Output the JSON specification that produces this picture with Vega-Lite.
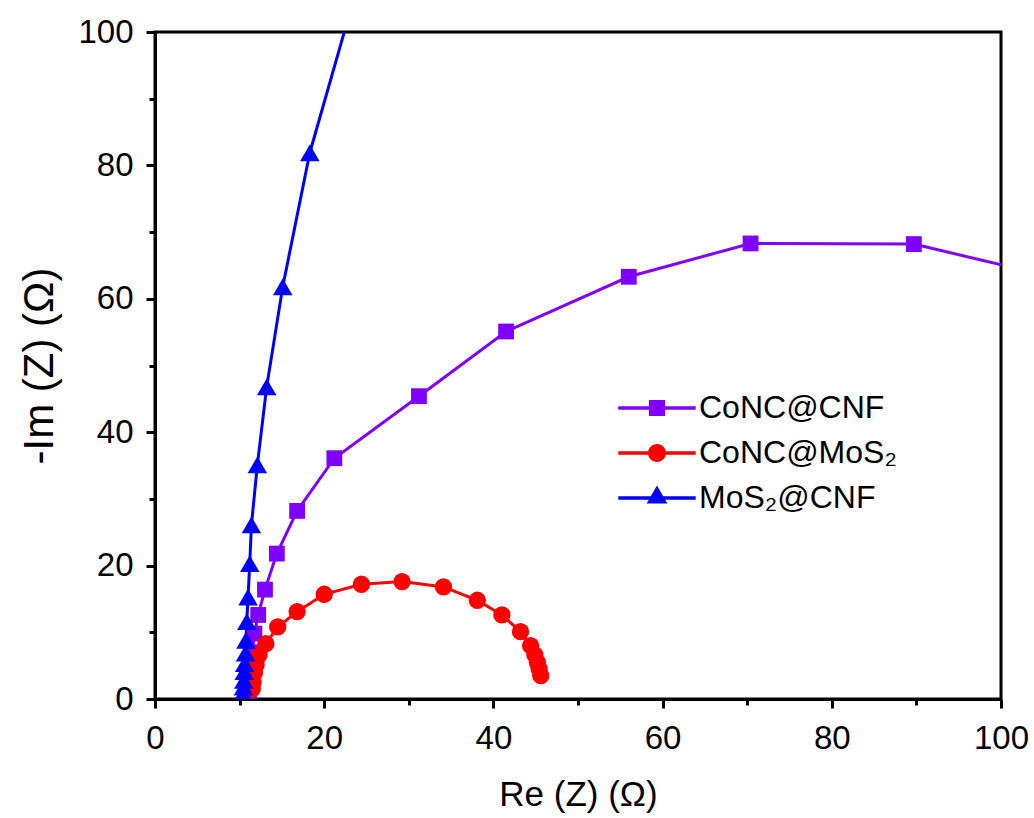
{
  "$schema": "https://vega.github.io/schema/vega-lite/v6.json",
  "autosize": "none",
  "width": 846,
  "height": 667,
  "padding": {"left": 155, "top": 32, "right": 33, "bottom": 119},
  "background": "white",
  "config": {
    "font": "Liberation Sans",
    "view": {"stroke": "black", "strokeWidth": 3},
    "axis": {"grid": false, "domainColor": "black", "domainWidth": 3, "tickColor": "black", "tickWidth": 3, "labelColor": "black", "titleColor": "black", "labelFont": "Liberation Sans", "titleFont": "Liberation Sans", "titleFontWeight": "normal", "labelFontSize": 33, "titleFontSize": 35}
  },
  "data": {"values": [
    {"s": "CoNC@CNF", "i": 1, "x": 11.1, "y": 0.6},
    {"s": "CoNC@CNF", "i": 2, "x": 11.2, "y": 2.2},
    {"s": "CoNC@CNF", "i": 3, "x": 11.35, "y": 4.5},
    {"s": "CoNC@CNF", "i": 4, "x": 11.5, "y": 7.0},
    {"s": "CoNC@CNF", "i": 5, "x": 11.75, "y": 9.8},
    {"s": "CoNC@CNF", "i": 6, "x": 12.2, "y": 12.6},
    {"s": "CoNC@CNF", "i": 7, "x": 13.0, "y": 16.4},
    {"s": "CoNC@CNF", "i": 8, "x": 14.4, "y": 21.8},
    {"s": "CoNC@CNF", "i": 9, "x": 16.8, "y": 28.2},
    {"s": "CoNC@CNF", "i": 10, "x": 21.2, "y": 36.1},
    {"s": "CoNC@CNF", "i": 11, "x": 31.2, "y": 45.4},
    {"s": "CoNC@CNF", "i": 12, "x": 41.5, "y": 55.1},
    {"s": "CoNC@CNF", "i": 13, "x": 56.0, "y": 63.3},
    {"s": "CoNC@CNF", "i": 14, "x": 70.4, "y": 68.3},
    {"s": "CoNC@CNF", "i": 15, "x": 89.7, "y": 68.2},
    {"s": "CoNC@CNF", "i": 16, "x": 108.0, "y": 62.7},
    {"s": "CoNC@MoS₂", "i": 1, "x": 11.5, "y": 1.5},
    {"s": "CoNC@MoS₂", "i": 2, "x": 11.6, "y": 2.6},
    {"s": "CoNC@MoS₂", "i": 3, "x": 11.75, "y": 3.9},
    {"s": "CoNC@MoS₂", "i": 4, "x": 11.95, "y": 5.1},
    {"s": "CoNC@MoS₂", "i": 5, "x": 12.3, "y": 6.6},
    {"s": "CoNC@MoS₂", "i": 6, "x": 13.1, "y": 8.3},
    {"s": "CoNC@MoS₂", "i": 7, "x": 14.5, "y": 10.8},
    {"s": "CoNC@MoS₂", "i": 8, "x": 16.8, "y": 13.1},
    {"s": "CoNC@MoS₂", "i": 9, "x": 20.0, "y": 15.7},
    {"s": "CoNC@MoS₂", "i": 10, "x": 24.4, "y": 17.2},
    {"s": "CoNC@MoS₂", "i": 11, "x": 29.2, "y": 17.6},
    {"s": "CoNC@MoS₂", "i": 12, "x": 34.1, "y": 16.8},
    {"s": "CoNC@MoS₂", "i": 13, "x": 38.1, "y": 14.8},
    {"s": "CoNC@MoS₂", "i": 14, "x": 41.0, "y": 12.6},
    {"s": "CoNC@MoS₂", "i": 15, "x": 43.2, "y": 10.1},
    {"s": "CoNC@MoS₂", "i": 16, "x": 44.4, "y": 8.0},
    {"s": "CoNC@MoS₂", "i": 17, "x": 44.9, "y": 6.6},
    {"s": "CoNC@MoS₂", "i": 18, "x": 45.2, "y": 5.5},
    {"s": "CoNC@MoS₂", "i": 19, "x": 45.4, "y": 4.5},
    {"s": "CoNC@MoS₂", "i": 20, "x": 45.6, "y": 3.5},
    {"s": "MoS₂@CNF", "i": 1, "x": 10.4, "y": 0.8},
    {"s": "MoS₂@CNF", "i": 2, "x": 10.45, "y": 1.8},
    {"s": "MoS₂@CNF", "i": 3, "x": 10.5, "y": 2.8},
    {"s": "MoS₂@CNF", "i": 4, "x": 10.55, "y": 4.1},
    {"s": "MoS₂@CNF", "i": 5, "x": 10.6, "y": 5.3},
    {"s": "MoS₂@CNF", "i": 6, "x": 10.7, "y": 6.9},
    {"s": "MoS₂@CNF", "i": 7, "x": 10.75, "y": 8.8},
    {"s": "MoS₂@CNF", "i": 8, "x": 10.85, "y": 11.6},
    {"s": "MoS₂@CNF", "i": 9, "x": 11.0, "y": 15.3},
    {"s": "MoS₂@CNF", "i": 10, "x": 11.2, "y": 20.3},
    {"s": "MoS₂@CNF", "i": 11, "x": 11.4, "y": 26.1},
    {"s": "MoS₂@CNF", "i": 12, "x": 12.1, "y": 35.1},
    {"s": "MoS₂@CNF", "i": 13, "x": 13.2, "y": 46.8},
    {"s": "MoS₂@CNF", "i": 14, "x": 15.1, "y": 61.8},
    {"s": "MoS₂@CNF", "i": 15, "x": 18.3, "y": 81.9},
    {"s": "MoS₂@CNF", "i": 16, "x": 23.5, "y": 105.0}
  ]},
  "encoding": {
    "x": {"field": "x", "type": "quantitative", "scale": {"domain": [0, 100], "nice": false, "zero": false},
      "axis": {"title": "Re (Z) (Ω)", "values": [0, 10, 20, 30, 40, 50, 60, 70, 80, 90, 100], "labelExpr": "datum.value % 20 === 0 ? datum.label : ''", "tickSize": {"condition": {"test": "datum.value % 20 !== 0", "value": 6}, "value": 9}, "labelPadding": 14, "titlePadding": 22, "labelFlush": false}},
    "y": {"field": "y", "type": "quantitative", "scale": {"domain": [0, 100], "nice": false, "zero": false},
      "axis": {"title": "-Im (Z) (Ω)", "values": [0, 10, 20, 30, 40, 50, 60, 70, 80, 90, 100], "labelExpr": "datum.value % 20 === 0 ? datum.label : ''", "tickSize": {"condition": {"test": "datum.value % 20 !== 0", "value": 6}, "value": 9}, "labelPadding": 13, "titlePadding": 16, "titleFontSize": 42, "labelFlush": false}},
    "color": {"field": "s", "type": "nominal", "scale": {"domain": ["CoNC@CNF", "CoNC@MoS₂", "MoS₂@CNF"], "range": ["#8000FF", "#FF0000", "#0000FF"]},
      "legend": {"orient": "none", "legendX": 486, "legendY": 360, "title": null, "labelFontSize": 32, "labelFont": "Liberation Sans", "labelColor": "black", "labelLimit": 0, "labelOffset": 26, "rowPadding": 13, "symbolSize": 324, "symbolStrokeWidth": 0, "symbolOpacity": 1,
        "symbolType": {"expr": "datum.value === 'CoNC@CNF' ? 'M-4.3,-0.2H4.3V0.2H-4.3Z M-0.9,-0.9H0.9V0.9H-0.9Z' : datum.value === 'CoNC@MoS₂' ? 'M-4.3,-0.2H4.3V0.2H-4.3Z M-1,0A1,1,0,1,1,1,0A1,1,0,1,1,-1,0Z' : 'M-4.3,-0.2H4.3V0.2H-4.3Z M0,-1.4L1.15,0.6H-1.15Z'"}}}
  },
  "layer": [
    {"mark": {"type": "line", "strokeWidth": 3, "clip": true}, "encoding": {"order": {"field": "i", "type": "quantitative"}}},
    {"mark": {"type": "point", "filled": true, "opacity": 1, "clip": true},
     "encoding": {
       "size": {"condition": [{"test": "datum.s === 'CoNC@CNF'", "value": 250}, {"test": "datum.s === 'CoNC@MoS₂'", "value": 300}], "value": 380},
       "shape": {"condition": [{"test": "datum.s === 'CoNC@CNF'", "value": "square"}, {"test": "datum.s === 'CoNC@MoS₂'", "value": "circle"}], "value": "triangle-up"}
     }}
  ]
}
